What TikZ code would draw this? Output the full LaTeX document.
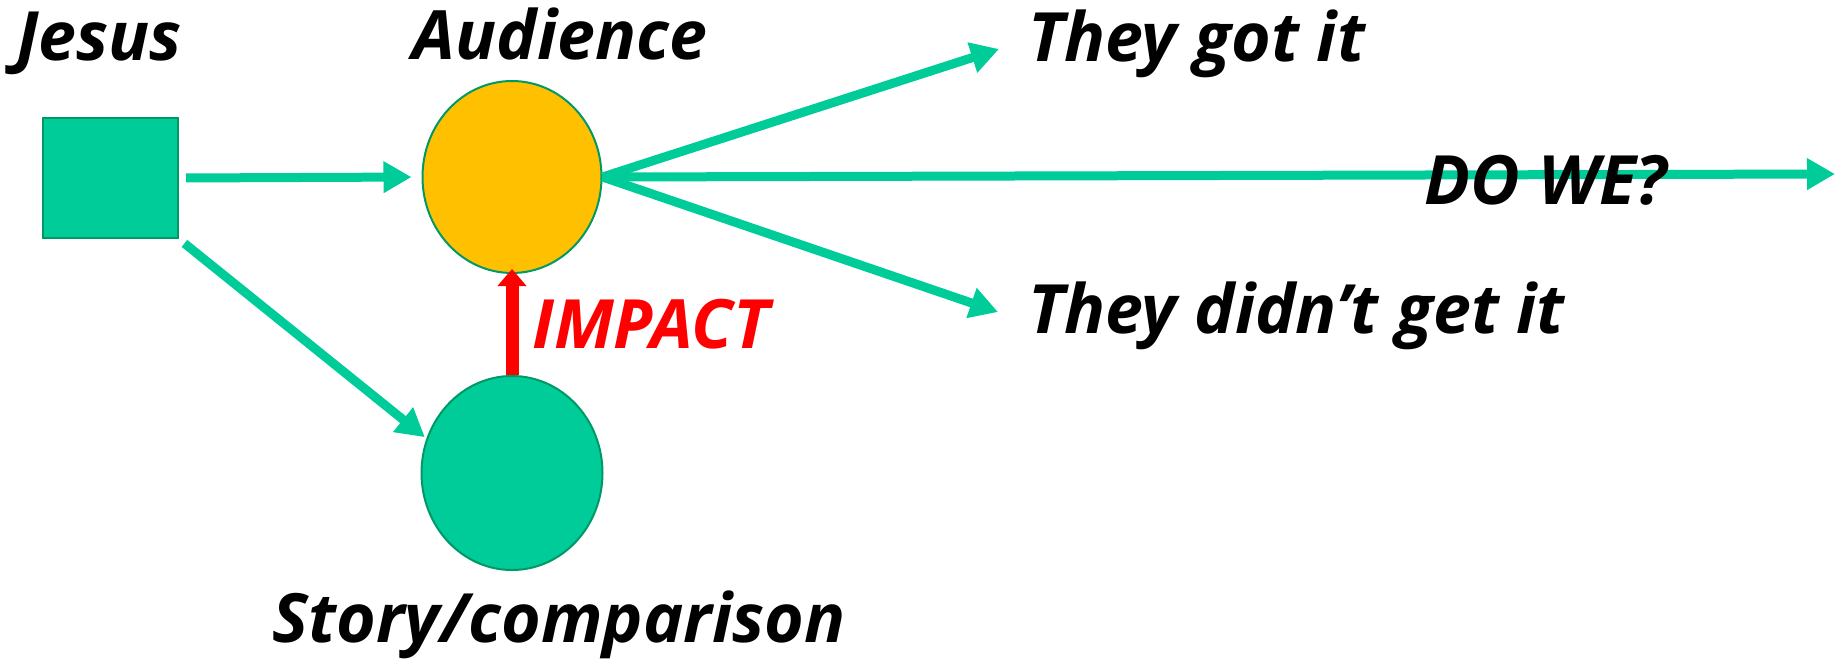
\documentclass[tikz,border=0pt]{standalone}
\usepackage{fontspec}
\setmainfont{Open Sans}
\usepackage{tikz}
\usetikzlibrary{arrows.meta, shapes.geometric}
\definecolor{parablegreen}{HTML}{00CC99}
\definecolor{rimgreen}{HTML}{009966}
\definecolor{audiencegold}{HTML}{FFC000}
\definecolor{impactred}{HTML}{FF0000}

\begin{document}
\begin{tikzpicture}[x=1pt, y=-1pt,
    caption/.style={font=\fontsize{68}{72}\selectfont\bfseries\itshape, inner sep=0pt},
    flow/.style={draw=parablegreen, line width=9pt, -{Triangle[length=28pt,width=30pt]}},
    blob/.style={ellipse, draw=rimgreen, line width=2pt, inner sep=0pt}]
    \useasboundingbox (0,0) rectangle (1847,664);
    % Speaker, audience and story
    \node[draw=rimgreen, fill=parablegreen, line width=2pt, inner sep=0pt,
          minimum width=135pt, minimum height=120pt] (jesus) at (110.5,178) {};
    \node[blob, fill=audiencegold, minimum width=179pt, minimum height=192pt] (audience) at (512,177) {};
    \node[blob, fill=parablegreen, minimum width=181pt, minimum height=194pt] (story) at (512,473) {};
    % Captions
    \node[caption, anchor=base] (jesuslbl) at (99,60) {Jesus};
    \node[caption, anchor=base] (audiencelbl) at (560,59) {Audience};
    \node[caption, anchor=base] (storylbl) at (559,642) {Story/comparison};
    \node[caption, anchor=base west] (gotlbl) at (1028,61) {They got it};
    \node[caption, anchor=base west] (notgotlbl) at (1028,333) {They didn't get it};
    % Arrow tips
    \coordinate (gottip) at (999,49);
    \coordinate (notgottip) at (998,312);
    \coordinate (dowetip) at (1835,174);
    % Connectors
    \draw[flow, shorten <=7pt, shorten >=10pt] (jesus.east) -- (audience.west);
    \draw[flow, shorten <=7pt, shorten >=2pt] (jesus.south east) -- (story.158);
    \draw[flow] (audience.east) -- (gottip);
    \draw[flow] (audience.east) -- (notgottip);
    \draw[flow] (audience.east) -- (dowetip);
    \draw[impactred, line width=13pt, -{Triangle[length=17pt,width=28pt]}, shorten >=-5pt] (story.north) -- (audience.south);
    \node[caption, text=impactred, anchor=base west] (impactlbl) at (532,348) {IMPACT};
    \node[caption, anchor=base] (dowelbl) at (1546,204) {DO WE?};
\end{tikzpicture}
\end{document}
